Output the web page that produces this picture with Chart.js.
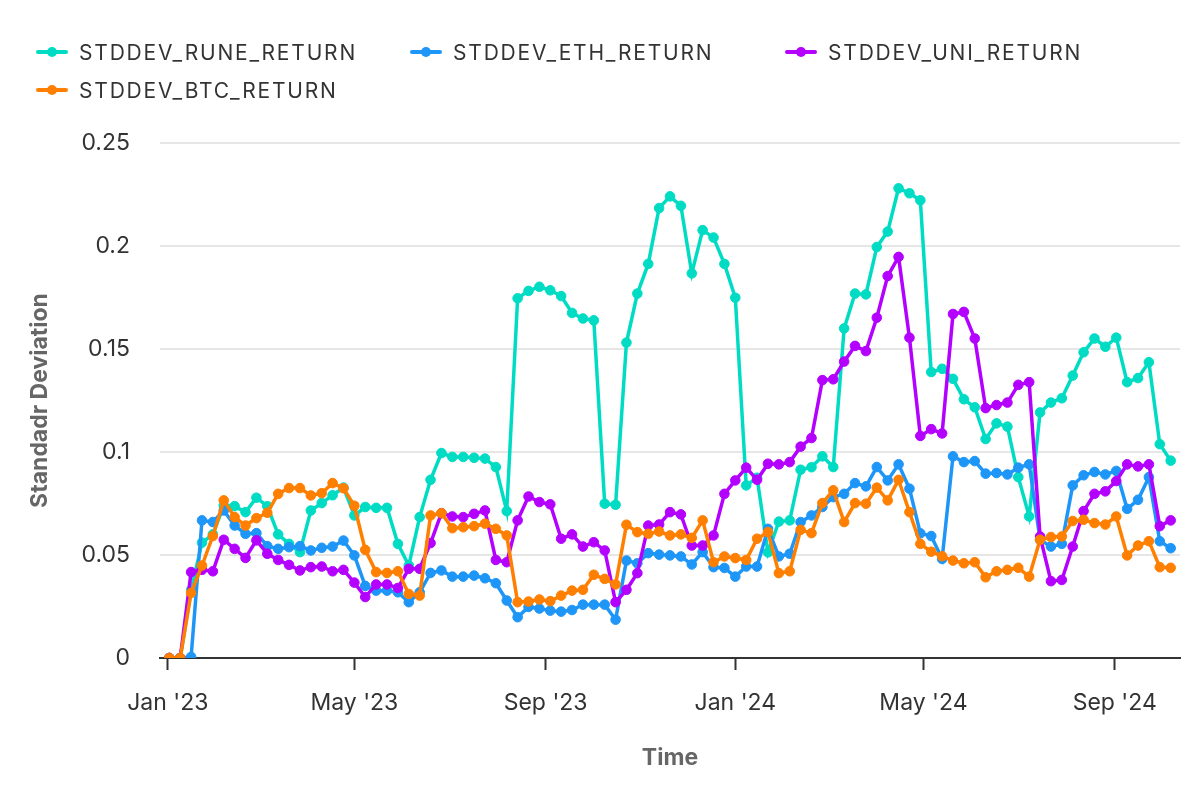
<!DOCTYPE html>
<html>
<head>
<meta charset="utf-8">
<script src="https://cdn.jsdelivr.net/npm/chart.js@4"></script>
<style>
  body { margin: 0; background: #fff; font-family: Inter, sans-serif; }
  #wrap { position: relative; width: 1200px; height: 800px; }
  #legend { position: absolute; left: 0; top: 0; width: 1200px; }
  .item { position: absolute; display: flex; align-items: center; height: 30px;
          font-size: 21px; letter-spacing: 1.8px; color: #333; white-space: nowrap; }
  .mark { position: relative; width: 32px; height: 4px; margin-right: 11px; border-radius: 2px; }
  .mark::after { content: ""; position: absolute; left: 11px; top: -3px; width: 10px; height: 10px;
                 border-radius: 50%; background: inherit; }
</style>
</head>
<body>
<div id="wrap">
  <canvas id="myChart"></canvas>
  <div id="legend"></div>
</div>
<script>
// series
const seriesNames = ["STDDEV_RUNE_RETURN", "STDDEV_ETH_RETURN", "STDDEV_UNI_RETURN", "STDDEV_BTC_RETURN"];
const seriesColors = ["#00dcc4", "#1e96f8", "#b400ff", "#ff7f00"];

const runeValues = [
  0, 0, 0.033, 0.056, 0.060, 0.074, 0.0737, 0.0708, 0.0778, 0.0737,
  0.060, 0.0554, 0.0514, 0.0716, 0.0752, 0.079, 0.0827, 0.0692, 0.0733, 0.0729,
  0.0729, 0.0554, 0.0449, 0.0684, 0.0865, 0.0995, 0.0976, 0.0976, 0.0972, 0.0968,
  0.0927, 0.0713, 0.1746, 0.1782, 0.1802, 0.1785, 0.1757, 0.1675, 0.1648, 0.1639,
  0.0749, 0.0744, 0.1531, 0.1769, 0.1913, 0.2184, 0.2241, 0.2195, 0.1867, 0.2077,
  0.2041, 0.1913, 0.1749, 0.0838, 0.0875, 0.0513, 0.0662, 0.0668, 0.0914, 0.0926,
  0.0979, 0.0927, 0.160, 0.1769, 0.1765, 0.1995, 0.207, 0.228, 0.2256, 0.2222,
  0.1388, 0.1404, 0.1355, 0.1256, 0.1217, 0.1063, 0.1139, 0.1123, 0.0878, 0.0687,
  0.1192, 0.1240, 0.1261, 0.1371, 0.1484, 0.1551, 0.1511, 0.1555, 0.1339, 0.1359,
  0.1436, 0.1038, 0.0958
];
const ethValues = [
  0, 0, 0.0005, 0.0668, 0.066, 0.0716, 0.0643, 0.0603, 0.0606, 0.0543,
  0.053, 0.0538, 0.0543, 0.0522, 0.0535, 0.0541, 0.057, 0.0498, 0.035, 0.0327,
  0.0327, 0.0319, 0.0271, 0.0319, 0.0413, 0.0425, 0.0395, 0.0395, 0.040, 0.0387,
  0.0363, 0.0279, 0.0198, 0.0248, 0.024, 0.023, 0.0225, 0.0233, 0.0259, 0.0259,
  0.0259, 0.0186, 0.0473, 0.046, 0.0509, 0.0502, 0.0498, 0.0493, 0.0454, 0.0514,
  0.0441, 0.0437, 0.0395, 0.0444, 0.0444, 0.0627, 0.0493, 0.0506, 0.066, 0.0692,
  0.0733, 0.0781, 0.0797, 0.0849, 0.0833, 0.0927, 0.0862, 0.094, 0.0822, 0.0605,
  0.0592, 0.0481, 0.0979, 0.0951, 0.0956, 0.0895, 0.0898, 0.0891, 0.0924, 0.094,
  0.0574, 0.0541, 0.0554, 0.0838, 0.0887, 0.0903, 0.0891, 0.0908, 0.0724, 0.0768,
  0.0878, 0.0567, 0.0533
];
const uniValues = [
  0, 0, 0.0417, 0.0428, 0.0421, 0.0574, 0.053, 0.0486, 0.0571, 0.0506,
  0.0476, 0.0452, 0.0425, 0.0441, 0.0444, 0.0421, 0.0428, 0.0366, 0.0296, 0.0357,
  0.0357, 0.034, 0.0433, 0.0433, 0.0558, 0.0703, 0.0687, 0.0684, 0.070, 0.0716,
  0.0476, 0.0465, 0.0668, 0.0784, 0.0757, 0.0746, 0.0579, 0.060, 0.0541, 0.0562,
  0.0522, 0.0271, 0.0331, 0.0412, 0.0643, 0.0648, 0.0708, 0.0697, 0.0546, 0.0546,
  0.0595, 0.0797, 0.0862, 0.0924, 0.0865, 0.0943, 0.094, 0.0951, 0.1026, 0.1068,
  0.1349, 0.1353, 0.1439, 0.1515, 0.149, 0.1652, 0.1854, 0.1947, 0.1555, 0.1078,
  0.1111, 0.109, 0.167, 0.168, 0.1551, 0.1213, 0.1228, 0.124, 0.1326, 0.1339,
  0.059, 0.0373, 0.0379, 0.0541, 0.0713, 0.0797, 0.0809, 0.0859, 0.094, 0.093,
  0.094, 0.064, 0.0668
];
const btcValues = [
  0, 0, 0.0316, 0.0449, 0.0592, 0.0765, 0.0684, 0.0643, 0.0679, 0.0705,
  0.0797, 0.0825, 0.0825, 0.0789, 0.080, 0.0849, 0.0824, 0.0739, 0.0525, 0.0417,
  0.0413, 0.0421, 0.0311, 0.0303, 0.0692, 0.0703, 0.063, 0.0635, 0.064, 0.0652,
  0.0627, 0.0595, 0.0271, 0.0274, 0.0284, 0.0276, 0.0303, 0.0327, 0.0331, 0.0404,
  0.0384, 0.0357, 0.0647, 0.0611, 0.0603, 0.0614, 0.0595, 0.060, 0.0583, 0.0668,
  0.0465, 0.0493, 0.0485, 0.0476, 0.0579, 0.0611, 0.0412, 0.0421, 0.0622, 0.0606,
  0.0752, 0.0814, 0.066, 0.0752, 0.0749, 0.0827, 0.0765, 0.0865, 0.0708, 0.0554,
  0.0516, 0.0494, 0.0473, 0.046, 0.0465, 0.0392, 0.0421, 0.0428, 0.0438, 0.0395,
  0.0574, 0.0587, 0.059, 0.0665, 0.0671, 0.0655, 0.0648, 0.0687, 0.0498, 0.0546,
  0.0567, 0.0441, 0.0438
];

// x 축: 주간 날짜 (2023-01-02 부터)
const firstWeek = "2023-01-02";
const tickDates = ["2023-01-01", "2023-05-01", "2023-09-01", "2024-01-01", "2024-05-01", "2024-09-01"];
const tickLabels = ["Jan '23", "May '23", "Sep '23", "Jan '24", "May '24", "Sep '24"];

const DAY = 86400000;
const origin = Date.UTC(2023, 0, 1);
const dayOf = s => (Date.parse(s + "T00:00:00Z") - origin) / DAY;

const weeks = runeValues.map((_, i) => dayOf(firstWeek) + i * 7);
const tickDays = tickDates.map(dayOf);

const allValues = [runeValues, ethValues, uniValues, btcValues];

// 범례 (HTML)
const legendPos = [[36, 37], [410, 37], [785, 37], [36, 75]];
const legend = document.getElementById("legend");
seriesNames.forEach((name, i) => {
  const el = document.createElement("div");
  el.className = "item";
  el.style.left = legendPos[i][0] + "px";
  el.style.top = legendPos[i][1] + "px";
  el.innerHTML = '<span class="mark" style="background:' + seriesColors[i] + '"></span>' + name;
  legend.appendChild(el);
});

const ctx = document.getElementById("myChart").getContext("2d");

const chart = new Chart(ctx, {
  type: "line",
  data: {
    datasets: seriesNames.map((name, i) => ({
      label: name,
      data: allValues[i].map((v, j) => ({ x: weeks[j], y: v })),
      borderColor: seriesColors[i],
      backgroundColor: seriesColors[i],
      borderWidth: 3.5,
      pointRadius: 4.8,
      pointBorderWidth: 1,
      tension: 0,
      order: seriesNames.length - i
    }))
  },
  options: {
    responsive: true,
    maintainAspectRatio: false,
    animation: false,
    layout: { padding: { top: 143, right: 20, bottom: 0, left: 0 } },
    plugins: {
      legend: { display: false },
      tooltip: { enabled: false }
    },
    font: { family: "Inter" },
    scales: {
      x: {
        type: "linear",
        min: -5,
        max: 651,
        afterFit: s => { s.height = 142; },
        afterBuildTicks: s => { s.ticks = tickDays.map(v => ({ value: v })); },
        ticks: {
          callback: v => tickLabels[tickDays.indexOf(v)],
          font: { family: "Inter", size: 23 },
          color: "#333",
          padding: 19,
          maxRotation: 0,
          autoSkip: false
        },
        grid: {
          drawOnChartArea: false,
          drawTicks: true,
          tickLength: 12,
          tickWidth: 2,
          tickColor: "#333"
        },
        border: { display: true, color: "#333", width: 2 },
        title: {
          display: true,
          text: "Time",
          font: { family: "Inter", size: 23, weight: "bold" },
          color: "#666",
          padding: { bottom: 28 }
        }
      },
      y: {
        min: 0,
        max: 0.25,
        afterFit: s => { s.width = 160; },
        ticks: {
          stepSize: 0.05,
          callback: v => String(+v.toFixed(2)),
          font: { family: "Inter", size: 23 },
          color: "#333",
          padding: 30
        },
        grid: { color: "#e6e6e6", lineWidth: 2, drawTicks: false },
        border: { display: false },
        title: {
          display: true,
          text: "Standadr Deviation",
          font: { family: "Inter", size: 23, weight: "bold" },
          color: "#666",
          padding: { top: 26 }
        }
      }
    }
  }
});
</script>
</body>
</html>
